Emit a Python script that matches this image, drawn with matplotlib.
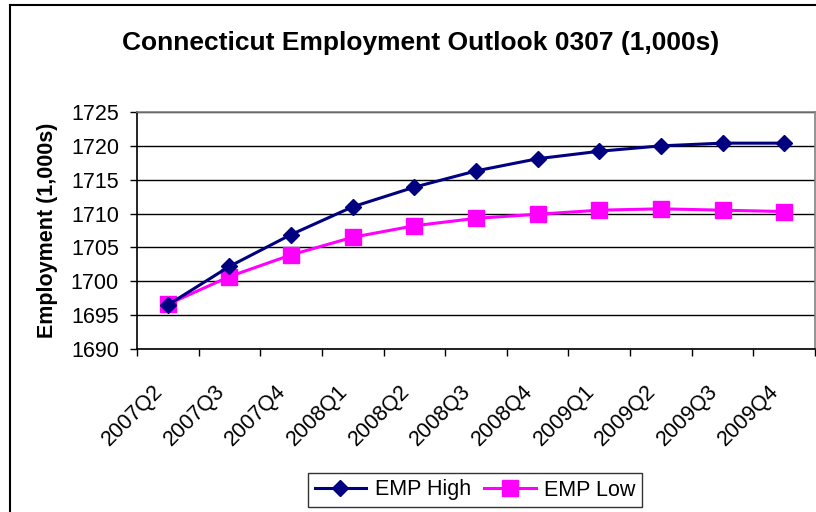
import matplotlib
matplotlib.use("Agg")
import matplotlib.pyplot as plt
from matplotlib.lines import Line2D
import matplotlib.transforms as mtransforms

categories = ["2007Q2", "2007Q3", "2007Q4", "2008Q1", "2008Q2", "2008Q3",
              "2008Q4", "2009Q1", "2009Q2", "2009Q3", "2009Q4"]
emp_high = [1696.5, 1702.2, 1706.9, 1711.0, 1713.9, 1716.3, 1718.1, 1719.2, 1720.0, 1720.4, 1720.4]
emp_low = [1696.6, 1700.7, 1703.9, 1706.5, 1708.2, 1709.3, 1709.9, 1710.5, 1710.7, 1710.5, 1710.3]
yticks = [1690, 1695, 1700, 1705, 1710, 1715, 1720, 1725]

plt.rcParams['font.family'] = ['Liberation Sans', 'DejaVu Sans']

W, H = 816, 512
fig = plt.figure(figsize=(W / 100, H / 100), dpi=100)
ax = fig.add_axes([137 / W, 1 - 349 / H, (815 - 137) / W, (349 - 112) / H])

x = list(range(len(categories)))
ax.plot(x, emp_high, color='#000080', lw=2.2, marker='D', ms=8.5,
        mfc='#000080', mec='#000080', label='EMP High', zorder=4)
ax.plot(x, emp_low, color='#FF00FF', lw=2.2, marker='s', ms=11.5,
        mfc='#FF00FF', mec='#FF00FF', label='EMP Low', zorder=3)

ax.set_xlim(-0.5, len(categories) - 0.5)
ax.set_ylim(1690, 1725)
ax.set_yticks(yticks)
ax.set_yticklabels([str(v) for v in yticks], fontsize=15.5)
ax.yaxis.grid(True, color='black', lw=1)
ax.set_axisbelow(True)

# Category ticks at boundaries
ax.set_xticks([i - 0.5 for i in range(len(categories) + 1)])
ax.set_xticklabels([])
ax.tick_params(axis='x', which='major', direction='out', length=5, width=1, color='black')
ax.tick_params(axis='y', direction='out', length=5, width=1, color='black', pad=8)

# Category labels, rotated, centered under categories
label_tr = mtransforms.blended_transform_factory(ax.transData, ax.transAxes) + \
    mtransforms.ScaledTranslation(-8 / 100, -39 / 100, fig.dpi_scale_trans)
for i, c in enumerate(categories):
    ax.text(i, 0, c, transform=label_tr, rotation=45, rotation_mode='anchor',
            ha='right', va='center', fontsize=15.5, clip_on=False)

for s in ['top', 'right']:
    ax.spines[s].set_color('#808080')
    ax.spines[s].set_linewidth(1.2)
for s in ['left', 'bottom']:
    ax.spines[s].set_color('black')
    ax.spines[s].set_linewidth(1.2)

ax.set_ylabel('Employment (1,000s)', fontsize=15.5, fontweight='bold', labelpad=9)

fig.text(421 / W, 1 - 43 / H, 'Connecticut Employment Outlook 0307 (1,000s)',
         ha='center', va='center', fontsize=19, fontweight='bold')

leg = ax.legend(loc='center', bbox_to_anchor=(475 / W, 1 - 490 / H),
                bbox_transform=fig.transFigure, ncol=2, fontsize=15.5,
                frameon=True, fancybox=False, edgecolor='black',
                handlelength=2.4, columnspacing=0.6, handletextpad=0.4,
                borderpad=0.3)
leg.get_frame().set_linewidth(1)

# outer chart border (partially cropped)
fig.add_artist(Line2D([10 / W, 10 / W], [0, 1 - 5 / H], transform=fig.transFigure,
                      color='black', lw=1.5))
fig.add_artist(Line2D([10 / W, 1], [1 - 5 / H, 1 - 5 / H], transform=fig.transFigure,
                      color='black', lw=1.5))

fig.savefig('out.png', dpi=100)
